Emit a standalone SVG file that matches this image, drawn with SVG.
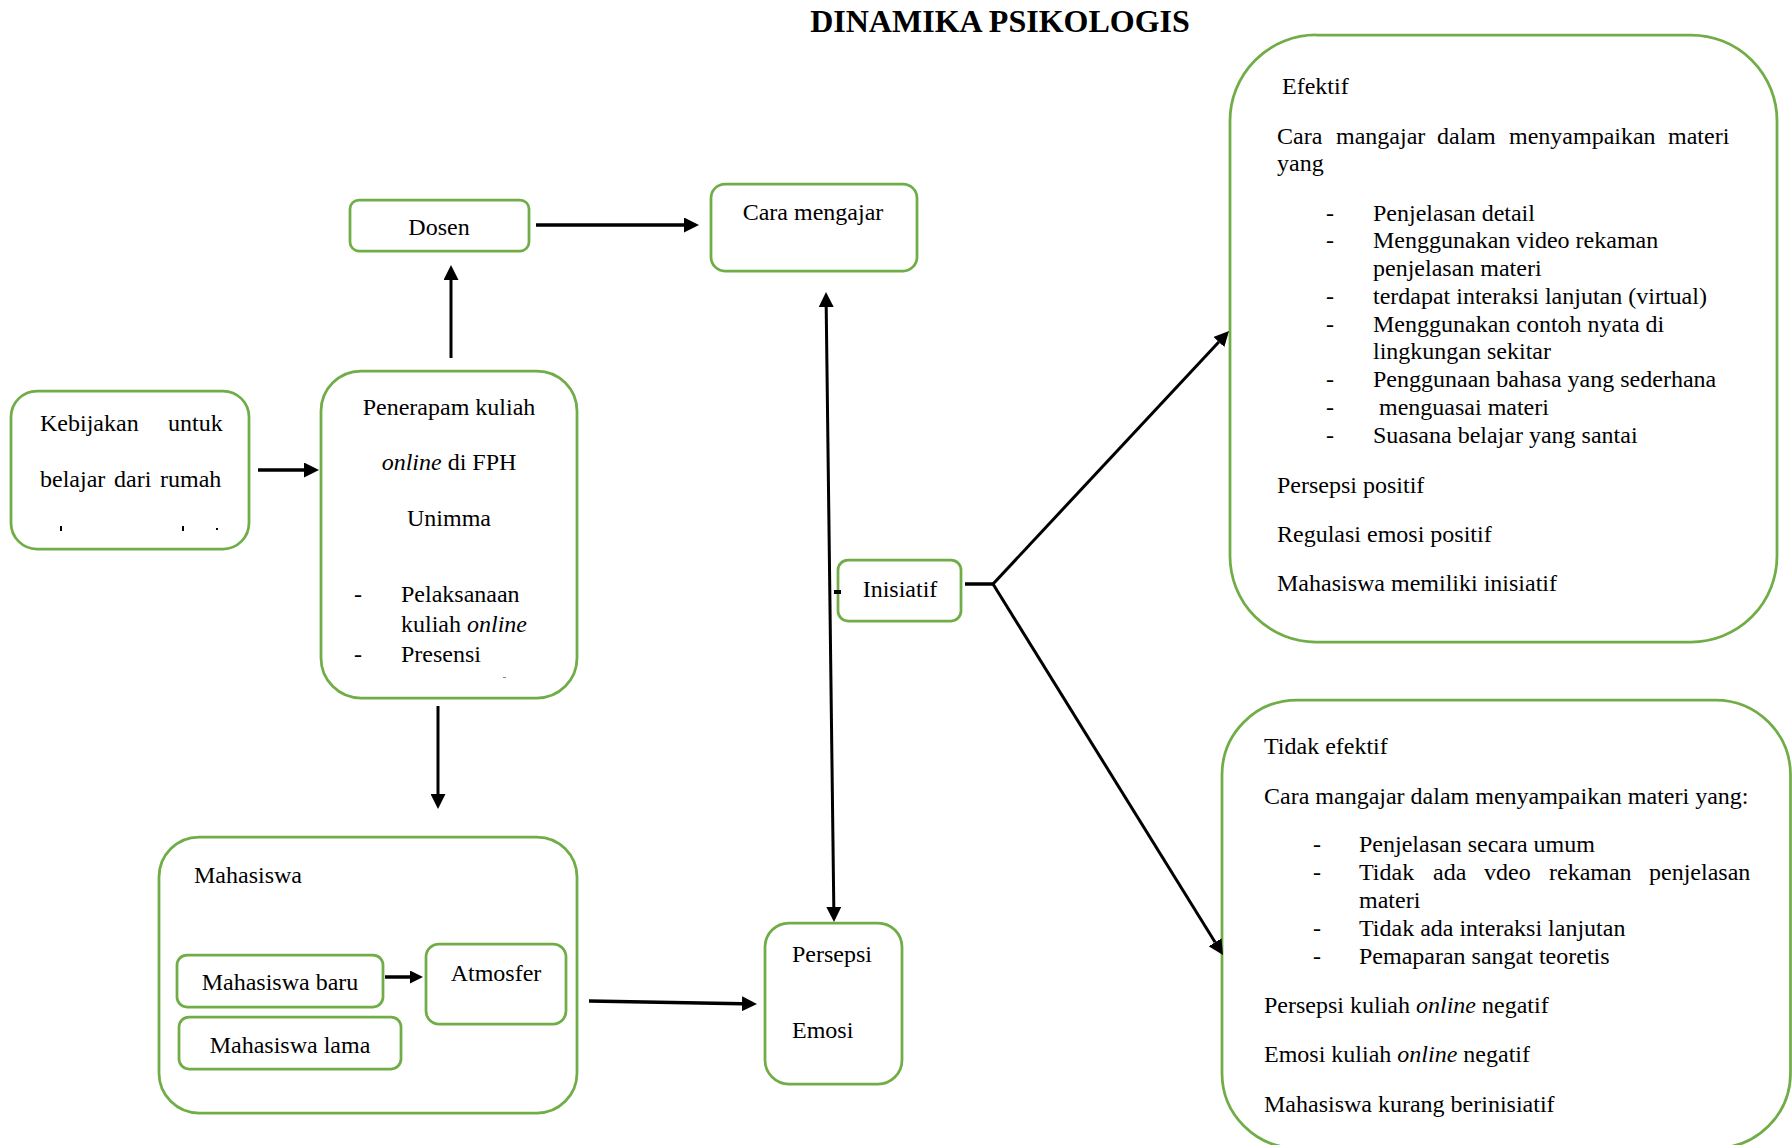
<svg xmlns="http://www.w3.org/2000/svg" width="1792" height="1145" viewBox="0 0 1792 1145">
<style>
.box{fill:#fff;stroke:#70AD47;stroke-width:2.75}
.t{font-family:"Liberation Serif","Times New Roman",serif;font-size:24px;fill:#000}
.i{font-style:italic}
.title{font-family:"Liberation Serif","Times New Roman",serif;font-size:32px;font-weight:bold;fill:#000}
.c{stroke:#000;stroke-width:3.5;fill:none}
.c3{stroke:#000;stroke-width:3;fill:none}
</style>
<defs>
<marker id="ah" viewBox="0 0 15 15" refX="0" refY="7.5" markerUnits="userSpaceOnUse" markerWidth="15" markerHeight="15" orient="auto-start-reverse">
<path d="M0,0 L15,7.5 L0,15 z" fill="#000"/>
</marker>
<marker id="ahs" viewBox="0 0 13 13" refX="0" refY="6.5" markerUnits="userSpaceOnUse" markerWidth="13" markerHeight="13" orient="auto">
<path d="M0,0 L13,6.5 L0,13 z" fill="#000"/>
</marker>
</defs>
<rect width="1792" height="1145" fill="#fff"/>
<text class="title" x="1000" y="32" text-anchor="middle">DINAMIKA PSIKOLOGIS</text>

<g id="kebijakan">
<rect class="box" x="11" y="391" width="238" height="158" rx="26"/>
<text class="t" y="431"><tspan x="40">Kebijakan</tspan><tspan x="168">untuk</tspan></text>
<text class="t" y="487"><tspan x="40">belajar</tspan><tspan x="114">dari</tspan><tspan x="160">rumah</tspan></text>
<rect x="60" y="526" width="2" height="5" fill="#000"/>
<rect x="182" y="526" width="2" height="5" fill="#000"/>
<rect x="216" y="528" width="2" height="2" fill="#000"/>
</g>

<g id="penerapam">
<rect class="box" x="321" y="371" width="256" height="327" rx="40"/>
<text class="t" x="449" y="415" text-anchor="middle">Penerapam kuliah</text>
<text class="t" x="449" y="470" text-anchor="middle"><tspan class="i">online</tspan> di FPH</text>
<text class="t" x="449" y="526" text-anchor="middle">Unimma</text>
<text class="t" x="354" y="602">-</text>
<text class="t" x="401" y="602">Pelaksanaan</text>
<text class="t" x="401" y="632">kuliah <tspan class="i">online</tspan></text>
<text class="t" x="354" y="662">-</text>
<text class="t" x="401" y="662">Presensi</text>
<rect x="503" y="677" width="3" height="1" fill="#888"/>
</g>

<g id="dosen">
<rect class="box" x="350" y="200" width="179" height="51" rx="9"/>
<text class="t" x="439" y="235" text-anchor="middle">Dosen</text>
</g>

<g id="cara-mengajar">
<rect class="box" x="711" y="184" width="206" height="87" rx="14"/>
<text class="t" x="813" y="220" text-anchor="middle">Cara mengajar</text>
</g>

<g id="mahasiswa">
<rect class="box" x="159" y="837" width="418" height="276" rx="40"/>
<text class="t" x="194" y="883">Mahasiswa</text>
</g>

<g id="mahasiswa-baru">
<rect class="box" x="177" y="955" width="206" height="52" rx="10"/>
<text class="t" x="280" y="990" text-anchor="middle">Mahasiswa baru</text>
</g>

<g id="mahasiswa-lama">
<rect class="box" x="179" y="1017" width="222" height="52" rx="10"/>
<text class="t" x="290" y="1053" text-anchor="middle">Mahasiswa lama</text>
</g>

<g id="atmosfer">
<rect class="box" x="426" y="944" width="140" height="80" rx="13"/>
<text class="t" x="496" y="981" text-anchor="middle">Atmosfer</text>
</g>

<g id="persepsi-emosi">
<rect class="box" x="765" y="923" width="137" height="161" rx="24"/>
<text class="t" x="792" y="962">Persepsi</text>
<text class="t" x="792" y="1038">Emosi</text>
</g>

<g id="inisiatif">
<rect class="box" x="838" y="560" width="123" height="61" rx="10"/>
<text class="t" x="900" y="597" text-anchor="middle">Inisiatif</text>
<rect x="834" y="590" width="7" height="4" fill="#000"/>
</g>

<g id="efektif">
<rect class="box" x="1230" y="35" width="547" height="607" rx="86"/>
<text class="t" x="1282" y="94">Efektif</text>
<text class="t" y="144"><tspan x="1277">Cara</tspan><tspan x="1336">mangajar</tspan><tspan x="1437">dalam</tspan><tspan x="1509">menyampaikan</tspan><tspan x="1668">materi</tspan></text>
<text class="t" x="1277" y="171">yang</text>
<g class="t">
<text x="1326" y="220.5">-</text><text x="1373" y="220.5">Penjelasan detail</text>
<text x="1326" y="248">-</text><text x="1373" y="248">Menggunakan video rekaman</text>
<text x="1373" y="276">penjelasan materi</text>
<text x="1326" y="304">-</text><text x="1373" y="304">terdapat interaksi lanjutan (virtual)</text>
<text x="1326" y="331.5">-</text><text x="1373" y="331.5">Menggunakan contoh nyata di</text>
<text x="1373" y="359">lingkungan sekitar</text>
<text x="1326" y="387">-</text><text x="1373" y="387">Penggunaan bahasa yang sederhana</text>
<text x="1326" y="415">-</text><text x="1379" y="415">menguasai materi</text>
<text x="1326" y="442.5">-</text><text x="1373" y="442.5">Suasana belajar yang santai</text>
</g>
<text class="t" x="1277" y="493">Persepsi positif</text>
<text class="t" x="1277" y="542">Regulasi emosi positif</text>
<text class="t" x="1277" y="591">Mahasiswa memiliki inisiatif</text>
</g>

<g id="tidak-efektif">
<rect class="box" x="1222" y="700" width="568.5" height="448" rx="75"/>
<text class="t" x="1264" y="754">Tidak efektif</text>
<text class="t" x="1264" y="804">Cara mangajar dalam menyampaikan materi yang:</text>
<g class="t">
<text x="1313" y="852">-</text><text x="1359" y="852">Penjelasan secara umum</text>
<text x="1313" y="880">-</text><text y="880"><tspan x="1359">Tidak</tspan><tspan x="1433">ada</tspan><tspan x="1484">vdeo</tspan><tspan x="1549">rekaman</tspan><tspan x="1649">penjelasan</tspan></text>
<text x="1359" y="908">materi</text>
<text x="1313" y="936">-</text><text x="1359" y="936">Tidak ada interaksi lanjutan</text>
<text x="1313" y="964">-</text><text x="1359" y="964">Pemaparan sangat teoretis</text>
</g>
<text class="t" x="1264" y="1013">Persepsi kuliah <tspan class="i">online</tspan> negatif</text>
<text class="t" x="1264" y="1062">Emosi kuliah <tspan class="i">online</tspan> negatif</text>
<text class="t" x="1264" y="1112">Mahasiswa kurang berinisiatif</text>
</g>

<g id="connectors">
<line class="c" x1="258" y1="470" x2="304" y2="470" marker-end="url(#ah)"/>
<line class="c3" x1="451" y1="358" x2="451" y2="280" marker-end="url(#ah)"/>
<line class="c" x1="536" y1="225" x2="684" y2="225" marker-end="url(#ah)"/>
<line class="c3" x1="438" y1="706" x2="438" y2="794" marker-end="url(#ah)"/>
<line class="c" x1="385" y1="977" x2="410" y2="977" marker-end="url(#ahs)"/>
<line class="c" x1="589" y1="1001" x2="742" y2="1003.7" marker-end="url(#ah)"/>
<line class="c3" x1="826.2" y1="307" x2="833.8" y2="907" marker-start="url(#ah)" marker-end="url(#ah)"/>
<line class="c" x1="965" y1="584" x2="994" y2="584"/>
<line class="c3" x1="993" y1="584" x2="1218.8" y2="342" marker-end="url(#ah)"/>
<line class="c3" x1="993" y1="584" x2="1215.1" y2="942.3" marker-end="url(#ah)"/>
</g>
</svg>
